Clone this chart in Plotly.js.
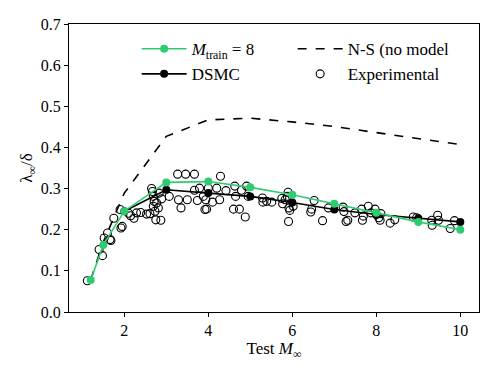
<!DOCTYPE html>
<html>
<head>
<meta charset="utf-8">
<script src="https://cdn.plot.ly/plotly-3.0.1.min.js"></script>
<style>
  body { margin: 0; background: #fff; }
  #chart { width: 498px; height: 374px; }
</style>
</head>
<body>
<div id="chart"></div>
<script>
// model curves
const mach_train = [1.2, 1.5, 2, 3, 4, 5, 6, 7, 8, 9, 10];
const lambda_train = [0.078, 0.163, 0.245, 0.315, 0.317, 0.303, 0.285, 0.263, 0.241, 0.219, 0.200];

const mach_dsmc = [2, 3, 4, 5, 6, 7, 8, 9, 10];
const lambda_dsmc = [0.245, 0.297, 0.289, 0.281, 0.266, 0.249, 0.237, 0.228, 0.219];

const mach_ns = [1.2, 1.5, 2, 3, 4, 5, 6, 7, 8, 9, 10];
const lambda_ns = [0.078, 0.17, 0.289, 0.427, 0.467, 0.471, 0.462, 0.451, 0.436, 0.421, 0.407];

// experimental points
const mach_exp = [1.12, 1.40, 1.48, 1.52, 1.60, 1.66, 1.68, 1.75, 1.92, 1.95, 1.90, 2.10, 2.15, 2.23, 2.29,
  2.39, 2.53, 2.61, 2.65, 2.67, 2.69, 2.71, 2.69, 2.73, 2.77, 2.75, 2.81, 2.87, 2.89, 2.83, 3.07,
  3.27, 3.46, 3.67, 3.29, 3.35, 3.50, 3.67, 3.74, 3.79, 3.88, 3.92, 3.96, 3.94, 4.00, 4.10, 4.20,
  4.27, 4.29, 4.42, 4.60, 4.63, 4.65, 4.74, 4.79, 4.88, 4.91, 4.95, 5.29, 5.30, 5.39, 5.51, 5.75,
  5.77, 5.83, 5.88, 5.90, 5.91, 5.92, 5.94, 6.02, 6.44, 6.46, 6.52, 6.72, 6.86, 7.21, 7.23, 7.28,
  7.32, 7.49, 7.65, 7.67, 7.69, 7.81, 7.87, 7.97, 8.00, 8.06, 8.09, 8.11, 8.33, 8.44, 8.88, 8.96,
  9.32, 9.33, 9.46, 9.48, 9.76, 9.86];
const lambda_exp = [0.076, 0.152, 0.137, 0.180, 0.192, 0.176, 0.174, 0.228, 0.204, 0.208, 0.249, 0.240, 0.234, 0.228, 0.241,
  0.242, 0.238, 0.239, 0.300, 0.293, 0.281, 0.269, 0.257, 0.245, 0.265, 0.224, 0.253, 0.223, 0.275, 0.289, 0.281,
  0.335, 0.335, 0.335, 0.273, 0.253, 0.273, 0.296, 0.271, 0.301, 0.281, 0.249, 0.250, 0.273, 0.301, 0.267, 0.301,
  0.273, 0.330, 0.295, 0.250, 0.306, 0.281, 0.250, 0.296, 0.231, 0.306, 0.281, 0.277, 0.267, 0.269, 0.267, 0.276,
  0.263, 0.273, 0.281, 0.291, 0.220, 0.253, 0.247, 0.257, 0.243, 0.250, 0.271, 0.222, 0.253, 0.255, 0.244, 0.220,
  0.223, 0.241, 0.250, 0.223, 0.233, 0.257, 0.241, 0.250, 0.237, 0.229, 0.223, 0.239, 0.216, 0.224, 0.231, 0.229,
  0.223, 0.211, 0.235, 0.223, 0.203, 0.222];

const green = '#2ecc71';
const serif = 'Liberation Serif, DejaVu Serif, serif';

let trace_exp = {
  x: mach_exp, y: lambda_exp,
  mode: 'markers',
  name: 'Experimental',
  legendrank: 4,
  marker: { symbol: 'circle-open', size: 8, color: 'black', line: { width: 1.1, color: 'black' } }
};

let trace_ns = {
  x: mach_ns, y: lambda_ns,
  mode: 'lines',
  name: 'N-S (no model)',
  legendrank: 2,
  line: { color: 'black', width: 1.6, dash: 'dash' }
};

let trace_dsmc = {
  x: mach_dsmc, y: lambda_dsmc,
  mode: 'lines+markers',
  name: 'DSMC',
  legendrank: 3,
  line: { color: 'black', width: 1.6 },
  marker: { color: 'black', size: 8 }
};

let trace_train = {
  x: mach_train, y: lambda_train,
  mode: 'lines+markers',
  name: '<i>M</i><sub>train</sub> = 8',
  legendrank: 1,
  line: { color: green, width: 1.6 },
  marker: { color: green, size: 8 }
};

let layout = {
  width: 498, height: 374,
  margin: { l: 69, r: 19, t: 24, b: 62 },
  paper_bgcolor: 'white', plot_bgcolor: 'white',
  font: { family: serif, size: 16, color: 'black' },
  showlegend: true,
  legend: {
    orientation: 'h',
    x: 0.165, y: 0.975, xanchor: 'left', yanchor: 'top',
    itemwidth: 45,
    entrywidth: 96, entrywidthmode: 'pixels',
    font: { family: serif, size: 17 },
    bgcolor: 'rgba(0,0,0,0)',
    tracegroupgap: 0
  },
  xaxis: {
    range: [0.683, 10.445],
    tickvals: [2, 4, 6, 8, 10],
    ticks: 'outside', ticklen: 4, tickwidth: 1, tickcolor: 'black',
    showline: true, linecolor: 'black', linewidth: 1, mirror: true,
    showgrid: false, zeroline: false,
    title: { text: 'Test <i>M</i><sub>∞</sub>', font: { size: 17 }, standoff: 1 }
  },
  yaxis: {
    range: [0, 0.7],
    tickvals: [0, 0.1, 0.2, 0.3, 0.4, 0.5, 0.6, 0.7],
    tickformat: '.1f',
    ticks: 'outside', ticklen: 4, tickwidth: 1, tickcolor: 'black',
    showline: true, linecolor: 'black', linewidth: 1, mirror: true,
    showgrid: false, zeroline: false,
    title: { text: 'λ<sub>∞</sub>/δ', font: { size: 17 }, standoff: 3 }
  }
};

Plotly.newPlot('chart', [trace_exp, trace_ns, trace_dsmc, trace_train], layout, { displayModeBar: false, staticPlot: true });
</script>
</body>
</html>
